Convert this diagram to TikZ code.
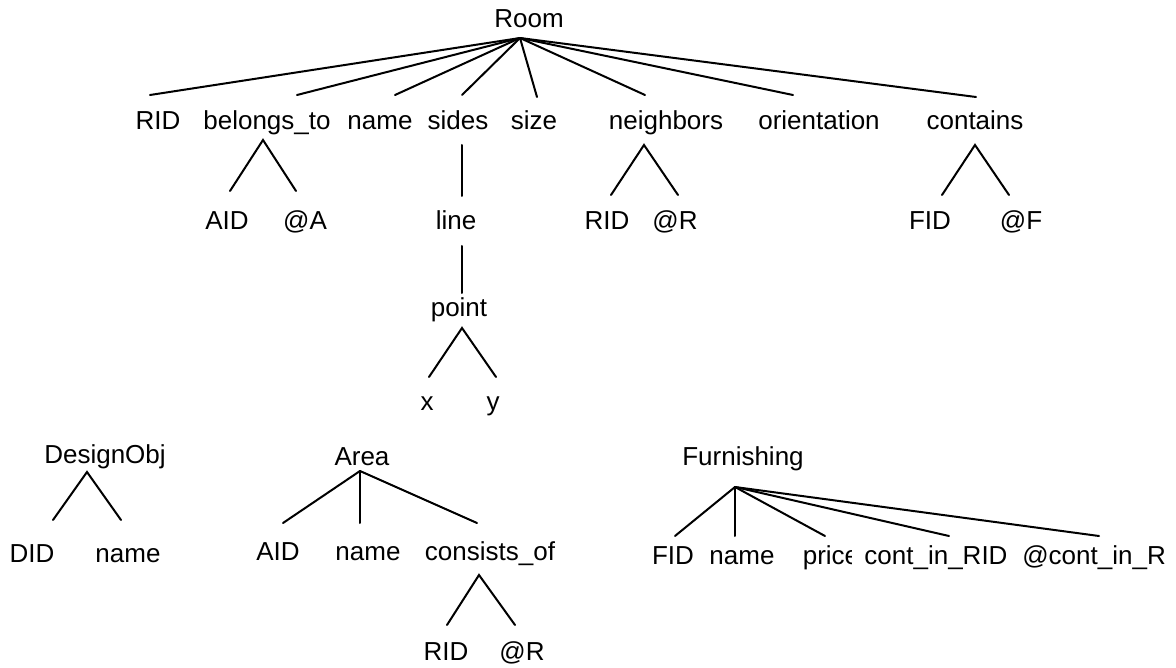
\documentclass[tikz,border=0pt]{standalone}
\usepackage{fontspec}
\setmainfont{Liberation Sans}
\begin{document}
\begin{tikzpicture}[x=1pt,y=-1pt,
  lbl/.style={anchor=base, inner sep=0pt, font=\fontsize{26}{30}\selectfont},
  edge/.style={line width=2pt, line cap=round},
]
\clip (0,0) rectangle (1176,668);
\fill[white] (0,0) rectangle (1176,668);

% ---------- Room ----------
\node[lbl] (room) at (529,28) {Room};
\node[lbl] (r-rid) at (158,130) {RID};
\node[lbl] (r-bel) at (267,130) {belongs\_to};
\node[lbl] (r-name) at (380,130) {name};
\node[lbl] (r-sides) at (458,130) {sides};
\node[lbl] (r-size) at (534,130) {size};
\node[lbl] (r-nb) at (666,130) {neighbors};
\node[lbl] (r-or) at (819,130) {orientation};
\node[lbl] (r-con) at (975,130) {contains};

\node[lbl] (b-aid) at (227,230) {AID};
\node[lbl] (b-at) at (305,230) {@A};
\node[lbl] (s-line) at (456,230) {line};
\node[lbl] (n-rid) at (607,230) {RID};
\node[lbl] (n-at) at (675,230) {@R};
\node[lbl] (c-fid) at (930,230) {FID};
\node[lbl] (c-at) at (1021,230) {@F};

\node[lbl] (l-point) at (459,317) {point};
\node[lbl] (p-x) at (427,410) {x};
\node[lbl] (p-y) at (493,410) {y};

\coordinate (room-j) at (520,38);
\coordinate (rid-t) at (150,95);
\coordinate (bel-t) at (297,95);
\coordinate (name-t) at (395,95);
\coordinate (sides-t) at (462,95);
\coordinate (size-t) at (537,97);
\coordinate (nb-t) at (645,95);
\coordinate (or-t) at (793,95);
\coordinate (con-t) at (976,97);
\foreach \c in {rid-t,bel-t,name-t,sides-t,size-t,nb-t,or-t,con-t}
  \draw[edge] (room-j) -- (\c);

\coordinate (bel-j) at (263,140);
\coordinate (baid-t) at (230,191);
\coordinate (bat-t) at (296,191);
\draw[edge] (baid-t) -- (bel-j) -- (bat-t);

\coordinate (sides-b) at (462,145);
\coordinate (line-t) at (462,196);
\draw[edge] (sides-b) -- (line-t);

\coordinate (line-b) at (462,246);
\coordinate (point-t) at (462,293);
\draw[edge] (line-b) -- (point-t);

\coordinate (point-j) at (462,328);
\coordinate (px-t) at (429,377);
\coordinate (py-t) at (496,377);
\draw[edge] (px-t) -- (point-j) -- (py-t);

\coordinate (nb-j) at (644,145);
\coordinate (nrid-t) at (611,195);
\coordinate (nat-t) at (678,195);
\draw[edge] (nrid-t) -- (nb-j) -- (nat-t);

\coordinate (con-j) at (975,145);
\coordinate (cfid-t) at (942,195);
\coordinate (cat-t) at (1009,195);
\draw[edge] (cfid-t) -- (con-j) -- (cat-t);

% ---------- DesignObj ----------
\node[lbl] (dobj) at (105,463) {DesignObj};
\node[lbl] (d-did) at (32,562) {DID};
\node[lbl] (d-name) at (128,562) {name};
\coordinate (dobj-j) at (87,472);
\coordinate (did-t) at (53,520);
\coordinate (dname-t) at (121,520);
\draw[edge] (did-t) -- (dobj-j) -- (dname-t);

% ---------- Area ----------
\node[lbl] (area) at (362,465) {Area};
\node[lbl] (a-aid) at (278,560) {AID};
\node[lbl] (a-name) at (368,560) {name};
\node[lbl] (a-cons) at (490,560) {consists\_of};
\node[lbl] (co-rid) at (446,660) {RID};
\node[lbl] (co-at) at (522,660) {@R};
\coordinate (area-j) at (360,471);
\coordinate (aaid-t) at (283,523);
\coordinate (aname-t) at (360,523);
\coordinate (acons-t) at (477,523);
\foreach \c in {aaid-t,aname-t,acons-t}
  \draw[edge] (area-j) -- (\c);
\coordinate (cons-j) at (479,575);
\coordinate (corid-t) at (447,625);
\coordinate (coat-t) at (515,625);
\draw[edge] (corid-t) -- (cons-j) -- (coat-t);

% ---------- Furnishing ----------
\node[lbl] (furn) at (743,465) {Furnishing};
\node[lbl] (f-fid) at (673,564) {FID};
\node[lbl] (f-name) at (742,564) {name};
\node[lbl] (f-price) at (831,564) {price};
% the next label's opaque box overlaps the tail of "price"
\node[lbl, fill=white, inner xsep=12pt, inner ysep=3pt] (f-cont) at (936,564) {cont\_in\_RID};
\node[lbl, anchor=base east] (f-atcont) at (1166,564) {@cont\_in\_R};
\coordinate (furn-j) at (735,487);
\coordinate (ffid-t) at (675,536);
\coordinate (fname-t) at (735,536);
\coordinate (fprice-t) at (825,536);
\coordinate (fcont-t) at (949,536);
\coordinate (fatcont-t) at (1099,536);
\foreach \c in {ffid-t,fname-t,fprice-t,fcont-t,fatcont-t}
  \draw[edge] (furn-j) -- (\c);
\end{tikzpicture}
\end{document}
